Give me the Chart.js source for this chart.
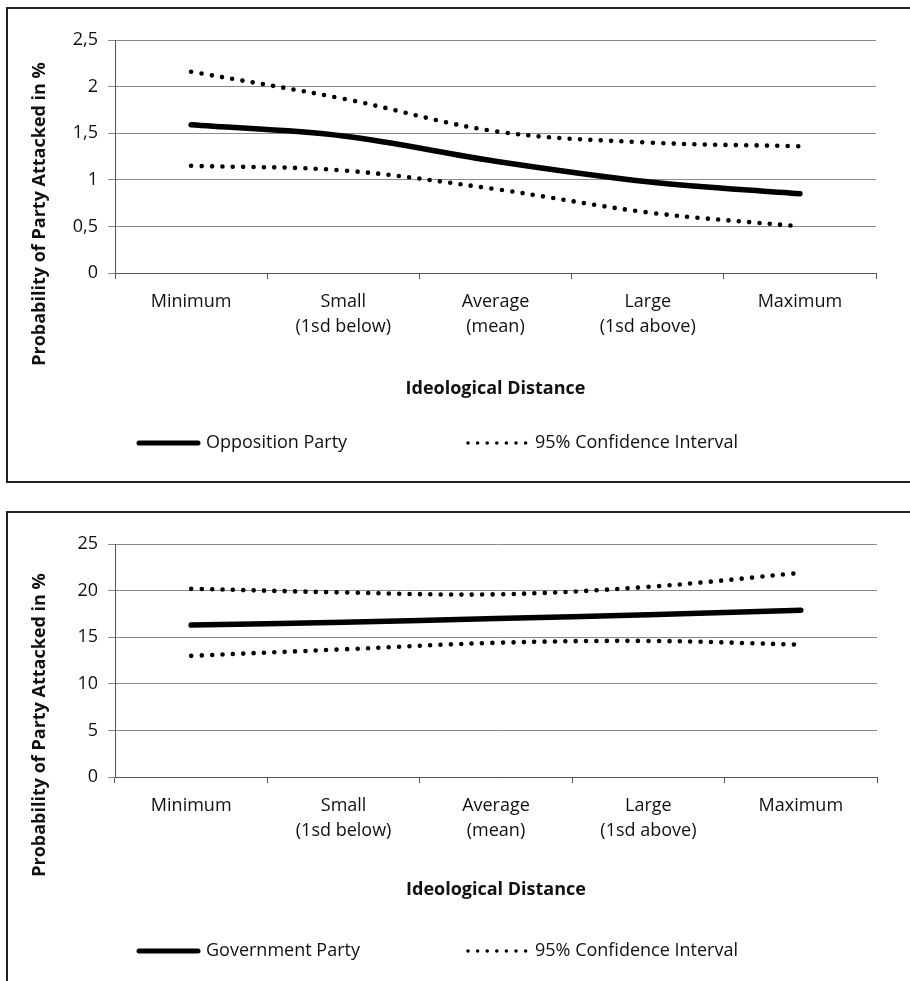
<!DOCTYPE html>
<html>
<head>
<meta charset="utf-8">
<script src="https://cdn.jsdelivr.net/npm/chart.js@4"></script>
<style>
  html, body { margin: 0; padding: 0; background: #fff; }
  body { position: relative; width: 910px; height: 981px; overflow: hidden; }
  .box { position: absolute; border: 2px solid #222; box-sizing: border-box; }
  .holder { position: absolute; left: 0; width: 910px; }
</style>
</head>
<body>
<div class="box" style="left:6px; top:7px; width:930px; height:476px;"></div>
<div class="box" style="left:6px; top:511px; width:930px; height:500px;"></div>
<div class="holder" style="top:0; height:490px;"><canvas id="oppChart"></canvas></div>
<div class="holder" style="top:500px; height:481px;"><canvas id="govChart"></canvas></div>
<script>
const categories = [
    ['Minimum'],
    ['Small', '(1sd below)'],
    ['Average', '(mean)'],
    ['Large', '(1sd above)'],
    ['Maximum']
];

// opposition party, probability in %
const opp_estimate = [1.59, 1.47, 1.20, 0.98, 0.85];
const opp_upper = [2.16, 1.87, 1.52, 1.40, 1.36];
const opp_lower = [1.15, 1.10, 0.90, 0.65, 0.50];

// government party, probability in %
const gov_estimate = [16.3, 16.6, 17.0, 17.4, 17.9];
const gov_upper = [20.2, 19.8, 19.6, 20.4, 21.9];
const gov_lower = [13.0, 13.7, 14.4, 14.6, 14.2];

const yTitle = 'Probability of Party Attacked in %';
const xTitle = 'Ideological Distance';
const ciLabel = '95% Confidence Interval';

const FONT = "'Open Sans', sans-serif";
const TEXT = '#111';

// y-axis title and the legend row, placed like the original (Excel) layout
const decor = {
    id: 'decor',
    afterDraw(chart, args, opts) {
        const ctx = chart.ctx;
        const area = chart.chartArea;
        ctx.save();
        ctx.fillStyle = TEXT;

        // rotated axis title
        ctx.font = "bold 18px " + FONT;
        ctx.textAlign = 'center';
        ctx.textBaseline = 'middle';
        ctx.translate(40, area.top + opts.titleOffset);
        ctx.rotate(-Math.PI / 2);
        ctx.fillText(yTitle, 0, 0);
        ctx.setTransform(1, 0, 0, 1, 0, 0);

        // legend
        const y = area.bottom + opts.legendOffset;
        const items = [
            {ds: chart.data.datasets[0], x: 138},
            {ds: chart.data.datasets[1], x: 467}
        ];
        ctx.font = "18px " + FONT;
        ctx.textAlign = 'left';
        items.forEach(it => {
            const ds = it.ds;
            ctx.strokeStyle = ds.borderColor;
            ctx.lineWidth = ds.legendWidth;
            ctx.lineCap = ds.borderCapStyle;
            ctx.setLineDash(ds.legendDash || []);
            ctx.beginPath();
            ctx.moveTo(it.x + 1, y);
            ctx.lineTo(it.x + 60, y);
            ctx.stroke();
            ctx.setLineDash([]);
            ctx.fillText(ds.label, it.x + 68, y);
        });
        ctx.restore();
    }
};

function makeChart(id, mainLabel, est, upper, lower, yMax, yStep, pad, titlePad, decorOpts) {
    const ctx = document.getElementById(id).getContext('2d');
    const dotted = {
        borderColor: '#000',
        borderWidth: 4.6,
        borderDash: [0, 10.4],
        borderCapStyle: 'round',
        pointRadius: 0,
        tension: 0.35,
        fill: false
    };
    return new Chart(ctx, {
        type: 'line',
        data: {
            labels: categories,
            datasets: [
                {
                    label: mainLabel,
                    data: est,
                    borderColor: '#000',
                    borderWidth: 5.5,
                    legendWidth: 5,
                    borderCapStyle: 'round',
                    pointRadius: 0,
                    tension: 0.35,
                    fill: false
                },
                Object.assign({label: ciLabel, data: upper, legendWidth: 3.6, legendDash: [0, 9.6]}, dotted),
                Object.assign({label: ciLabel, data: lower}, dotted)
            ]
        },
        options: {
            responsive: true,
            maintainAspectRatio: false,
            animation: false,
            layout: {padding: pad},
            plugins: {
                legend: {display: false},
                tooltip: {enabled: false},
                decor: decorOpts
            },
            scales: {
                x: {
                    offset: true,
                    grid: {
                        offset: true,
                        drawOnChartArea: false,
                        drawTicks: true,
                        tickLength: 6,
                        color: '#555'
                    },
                    border: {display: true, color: '#555', width: 1},
                    ticks: {
                        color: TEXT,
                        padding: 10,
                        maxRotation: 0,
                        autoSkip: false,
                        font: {family: FONT, size: 18, lineHeight: 1.39}
                    },
                    title: {
                        display: true,
                        text: xTitle,
                        color: TEXT,
                        font: {family: FONT, size: 18, weight: 'bold'},
                        padding: {top: 0, bottom: titlePad}
                    },
                    afterFit: s => { s.height = 130; }
                },
                y: {
                    min: 0,
                    max: yMax,
                    grid: {color: '#8a8a8a', lineWidth: 1, tickLength: 7},
                    border: {display: true, color: '#555', width: 1},
                    ticks: {
                        stepSize: yStep,
                        color: TEXT,
                        padding: 10,
                        font: {family: FONT, size: 18},
                        callback: v => String(v).replace('.', ',')
                    },
                    afterFit: s => { s.width = 115 - pad.left; }
                }
            }
        },
        plugins: [decor]
    });
}

makeChart('oppChart', 'Opposition Party', opp_estimate, opp_upper, opp_lower, 2.5, 0.5,
    {left: 0, top: 40, right: 34, bottom: 87}, 3, {titleOffset: 174, legendOffset: 170});
makeChart('govChart', 'Government Party', gov_estimate, gov_upper, gov_lower, 25, 5,
    {left: 1, top: 44, right: 33, bottom: 74}, 6, {titleOffset: 181, legendOffset: 174});
</script>
</body>
</html>
